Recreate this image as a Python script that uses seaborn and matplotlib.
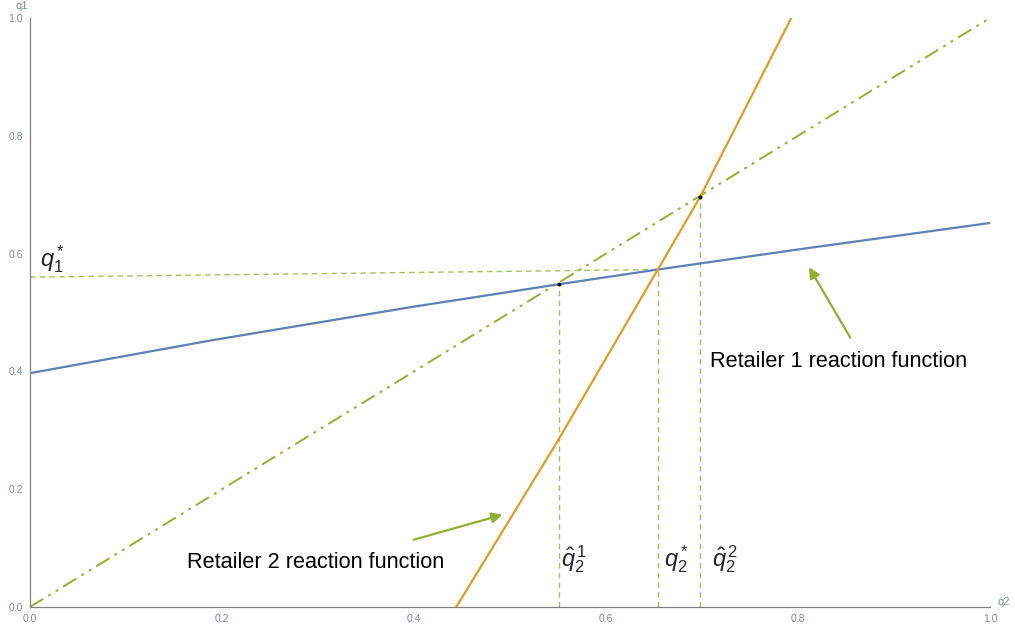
import numpy as np
import pandas as pd
import matplotlib
matplotlib.use("Agg")
import matplotlib.pyplot as plt
import seaborn as sns
from matplotlib.ticker import MultipleLocator

# ---- data ----
r1_q2 = [0.0, 0.19, 0.40, 0.551, 0.654, 0.80, 1.0]
r1_q1 = [0.397, 0.453, 0.510, 0.548, 0.573, 0.607, 0.652]

r2_q2 = [0.444, 0.549, 0.654, 0.698, 0.793]
r2_q1 = [0.0, 0.28, 0.573, 0.696, 1.0]

diag_q2 = [0.0, 1.0]
diag_q1 = [0.0, 1.0]

q1_star_line_q2 = [0.0, 0.654]
q1_star_line_q1 = [0.560, 0.573]

vert_x = [0.551, 0.654, 0.698]
vert_top = [0.548, 0.573, 0.696]

dots_q2 = [0.551, 0.698]
dots_q1 = [0.548, 0.696]

ticks_major = [0.0, 0.2, 0.4, 0.6, 0.8, 1.0]
tick_labels = ["0.0", "0.2", "0.4", "0.6", "0.8", "1.0"]

BLUE = "#5E81B5"
ORANGE = "#E19C24"
GREEN = "#8FB032"
LGREEN = "#9DC35A"
TICKC = "#7A8AA0"

sns.set_theme(style="white")
plt.rcParams['font.family'] = ['Liberation Sans', 'DejaVu Sans']
plt.rcParams['mathtext.fontset'] = 'custom'
plt.rcParams['mathtext.it'] = 'Liberation Sans:italic'
plt.rcParams['mathtext.rm'] = 'Liberation Sans'

fig = plt.figure(figsize=(10.15, 6.32), dpi=100)
ax = fig.add_axes([30/1015, 25/632, 960/1015, 589/632])

sns.lineplot(x=q1_star_line_q2, y=q1_star_line_q1, ax=ax, color=LGREEN, lw=1.0,
             linestyle=(0, (4, 3)), estimator=None, sort=False)
for vx, vt in zip(vert_x, vert_top):
    sns.lineplot(x=[vx, vx], y=[0, vt], ax=ax, color=LGREEN, lw=1.0,
                 linestyle=(0, (4, 3)), estimator=None, sort=False)

sns.lineplot(x=diag_q2, y=diag_q1, ax=ax, color=GREEN, lw=1.4,
             linestyle=(0, (8, 3, 1.5, 3, 1.5, 3)), estimator=None, sort=False)
sns.lineplot(x=r1_q2, y=r1_q1, ax=ax, color=BLUE, lw=1.6, estimator=None, sort=False)
sns.lineplot(x=r2_q2, y=r2_q1, ax=ax, color=ORANGE, lw=1.6, estimator=None, sort=False)
sns.scatterplot(x=dots_q2, y=dots_q1, ax=ax, color="black", s=8, zorder=5, linewidth=0)

ax.set_xlim(0, 1.0)
ax.set_ylim(0, 1.0)
ax.set_xticks(ticks_major)
ax.set_xticklabels(tick_labels)
ax.set_yticks(ticks_major)
ax.set_yticklabels(tick_labels)
ax.xaxis.set_minor_locator(MultipleLocator(0.05))
ax.yaxis.set_minor_locator(MultipleLocator(0.05))
for s in ["top", "right"]:
    ax.spines[s].set_visible(False)
for s in ["left", "bottom"]:
    ax.spines[s].set_color("#808080")
    ax.spines[s].set_linewidth(0.9)
ax.tick_params(which="major", direction="inout", length=6, width=0.8, color="#808080",
               labelsize=7.5, labelcolor=TICKC, pad=2)
ax.tick_params(which="minor", direction="inout", length=3, width=0.6, color="#808080")
ax.set_xlabel("")
ax.set_ylabel("")
ax.grid(False)

ax.text(1.008, 0.0, "q2", transform=ax.transData, fontsize=8, color=TICKC,
        ha="left", va="bottom", clip_on=False)
ax.text(-0.002, 1.012, "q1", transform=ax.transData, fontsize=8, color=TICKC,
        ha="right", va="bottom", clip_on=False)

ax.text(0.708, 0.416, "Retailer 1 reaction function", fontsize=15.6, color="black",
        ha="left", va="center")
ax.text(0.164, 0.076, "Retailer 2 reaction function", fontsize=15.6, color="black",
        ha="left", va="center")

ax.annotate("", xy=(0.810, 0.581), xytext=(0.856, 0.453),
            arrowprops=dict(arrowstyle="-|>", color=GREEN, lw=1.6, mutation_scale=16))
ax.annotate("", xy=(0.495, 0.158), xytext=(0.397, 0.113),
            arrowprops=dict(arrowstyle="-|>", color=GREEN, lw=1.6, mutation_scale=16))

ax.text(0.010, 0.590, r"$q_1^*$", fontsize=17, ha="left", va="center")
ax.text(0.553, 0.082, r"$\hat{q}_2^{\,1}$", fontsize=17, ha="left", va="center")
ax.text(0.660, 0.082, r"$q_2^*$", fontsize=17, ha="left", va="center")
ax.text(0.710, 0.082, r"$\hat{q}_2^{\,2}$", fontsize=17, ha="left", va="center")

fig.savefig("out.png", dpi=100)
